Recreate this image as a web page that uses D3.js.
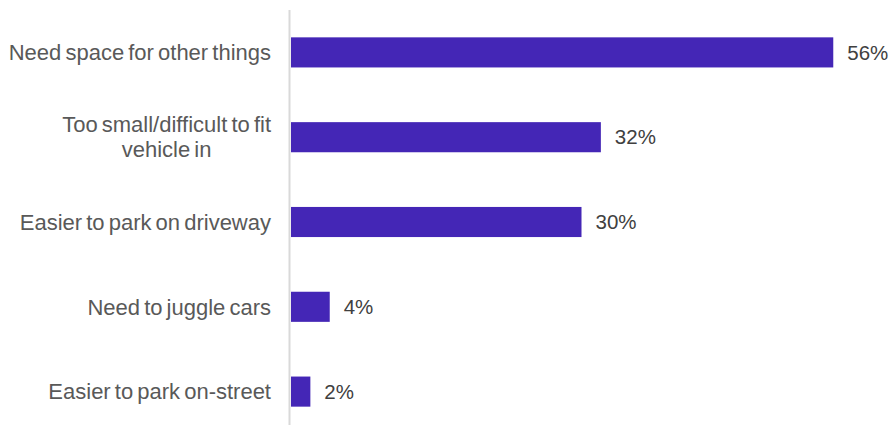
<!DOCTYPE html>
<html>
<head>
<meta charset="utf-8">
<script src="https://cdn.jsdelivr.net/npm/d3@7"></script>
<style>
  html, body { margin: 0; padding: 0; background: #ffffff; }
  svg { display: block; }
</style>
</head>
<body>
<svg id="chart" width="892" height="425"></svg>
<script>
// Reasons for not parking in the garage (% of respondents)
const categories = [
  ["Need space for other things"],
  ["Too small/difficult to fit", "vehicle in"],
  ["Easier to park on driveway"],
  ["Need to juggle cars"],
  ["Easier to park on-street"]
];
const values = [56, 32, 30, 4, 2];
const valueLabels = ["56%", "32%", "30%", "4%", "2%"];

const width = 892, height = 425;
const svg = d3.select("#chart");
const font = "'Liberation Sans', Arial, sans-serif";

const x = d3.scaleLinear().domain([0, 60]).range([291, 872]);
const y = d3.scaleBand()
  .domain(d3.range(categories.length))
  .range([10, 434])
  .paddingInner(0.645)
  .paddingOuter(0.3225);

// vertical category axis line
svg.append("line")
  .attr("x1", 289.5).attr("x2", 289.5)
  .attr("y1", 10).attr("y2", height)
  .attr("stroke", "#d9d9d9").attr("stroke-width", 2);

// bars
svg.selectAll("rect.bar")
  .data(values)
  .join("rect")
  .attr("class", "bar")
  .attr("x", x(0))
  .attr("y", (d, i) => y(i))
  .attr("width", d => x(d) - x(0))
  .attr("height", y.bandwidth())
  .attr("fill", "#4426b6");

// value labels
svg.selectAll("text.val")
  .data(values)
  .join("text")
  .attr("class", "val")
  .attr("x", d => x(d) + 14)
  .attr("y", (d, i) => y(i) + y.bandwidth() / 2)
  .attr("dy", "0.35em")
  .attr("font-family", font)
  .attr("font-size", 20.5)
  .attr("fill", "#404040")
  .text((d, i) => valueLabels[i]);

// category labels: multi-line blocks are right-aligned, lines centred within the block
const labelRight = 271;
const lineH = 25;
categories.forEach((lines, i) => {
  const g = svg.append("g");
  const cy = y(i) + y.bandwidth() / 2;
  const texts = lines.map((ln, k) => g.append("text")
    .attr("font-family", font)
    .attr("font-size", 22)
    .attr("word-spacing", -2)
    .attr("fill", "#595959")
    .attr("dy", "0.35em")
    .attr("y", cy + (k - (lines.length - 1) / 2) * lineH)
    .text(ln));
  const widths = texts.map(t => t.node().getComputedTextLength());
  const maxW = d3.max(widths);
  const center = labelRight - maxW / 2;
  texts.forEach(t => t.attr("x", center).attr("text-anchor", "middle"));
});
</script>
</body>
</html>
